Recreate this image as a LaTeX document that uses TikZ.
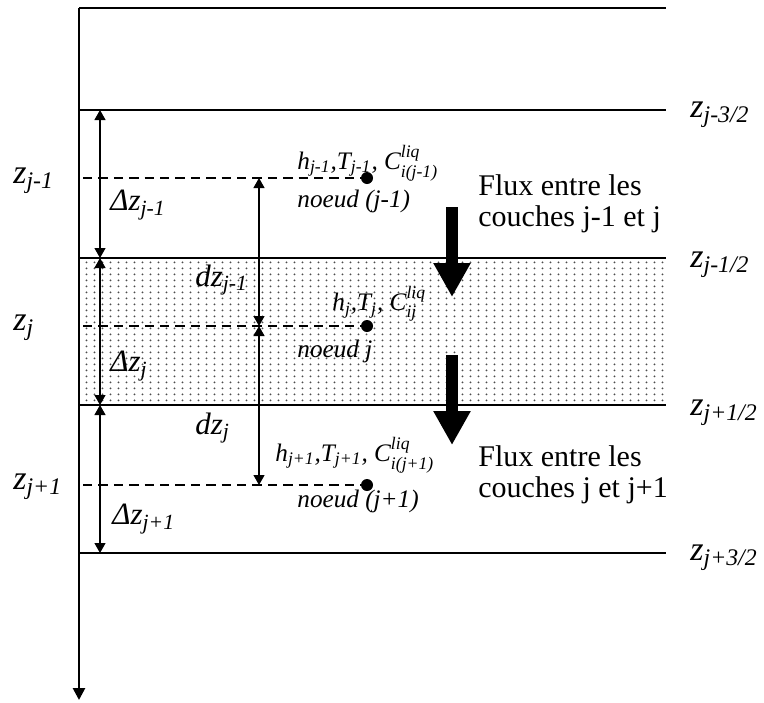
\documentclass[tikz,border=0pt]{standalone}
\usepackage{amsmath}
\usepackage{fontspec}
\setmainfont{Liberation Serif}
\usetikzlibrary{arrows.meta, positioning, patterns}

% grille de points pour la couche j
\pgfdeclarepatternformonly{dotgrid}{\pgfpointorigin}{\pgfpoint{3.75pt}{3pt}}%
  {\pgfpoint{3.75pt}{3pt}}%
  {\pgfpathcircle{\pgfpoint{1.875pt}{1.5pt}}{0.55pt}\pgfusepath{fill}}

\newcommand{\idx}[2]{#1$_{\text{#2}}$}
\newcommand{\liq}[2]{#1$^{\text{liq}}_{\text{#2}}$}

\begin{document}
\begin{tikzpicture}[
  x=0.5pt, y=-0.5pt,
  axe/.style    = {line width=1.3pt, -{Triangle[width=6pt,length=6pt]}},
  couche/.style = {line width=0.65pt},
  niveau/.style = {line width=1.1pt, dash pattern=on 4.7pt off 3pt},
  cote/.style   = {line width=0.6pt,
                   {Triangle[width=5.5pt,length=5pt]}-{Triangle[width=5.5pt,length=5pt]}},
  flux/.style   = {line width=6pt, -{Triangle[width=17.5pt,length=17pt]}},
  point/.style  = {circle, fill, inner sep=0pt, minimum size=6pt},
  zlab/.style   = {font=\fontsize{17}{17}\selectfont\itshape, inner sep=0pt, anchor=west},
  dlab/.style   = {font=\fontsize{15.5}{15.5}\selectfont\itshape, inner sep=0pt, anchor=west},
  nlab/.style   = {font=\fontsize{12.6}{13}\selectfont\itshape, inner sep=0pt, anchor=west},
  ftext/.style  = {font=\fontsize{15}{15.5}\selectfont, align=left, inner sep=0pt, anchor=west}
]
\useasboundingbox (0,0) rectangle (764,702);

% couche j (pointillee)
\fill[pattern=dotgrid, pattern color=black!70] (79,258) rectangle (666,405);

% axe et limites des couches
\coordinate (haut) at (79,8);
\coordinate (bas)  at (79,700);
\draw[line width=0.9pt] (haut) -- (666,8);
\draw[axe] (haut) -- (bas);
\foreach \y/\n in {110/a, 258/b, 405/c, 553/d}
  \draw[couche] (79,\y) coordinate (g\n) -- (666,\y) coordinate (d\n);

\node[zlab] (zA) at (690,115) {\idx{z}{j-3/2}};
\node[zlab] (zB) at (690,265) {\idx{z}{j-1/2}};
\node[zlab] (zC) at (690,413) {\idx{z}{j+1/2}};
\node[zlab] (zD) at (690,558) {\idx{z}{j+3/2}};

% noeuds
\foreach \y/\n in {178/1, 326/2, 485/3} {
  \node[point] (p\n) at (367,\y) {};
  \draw[niveau] (83,\y) -- (p\n);
}

\node[zlab] (z1) at (13,181) {\idx{z}{j-1}};
\node[zlab] (z2) at (13,328) {\idx{z}{j}};
\node[zlab] (z3) at (13,487) {\idx{z}{j+1}};

% epaisseurs
\foreach \a/\b in {110/258, 258/405, 405/553}
  \draw[cote] (100,\a) -- (100,\b);
\node[dlab] (dz1) at (110,205) {Δ\idx{z}{j-1}};
\node[dlab] (dz2) at (110,366) {Δ\idx{z}{j}};
\node[dlab] (dz3) at (112,519) {Δ\idx{z}{j+1}};

% distances entre noeuds
\draw[cote] (259,178) -- (259,326);
\draw[cote] (259,326) -- (259,485);
\node[dlab] (d1) at (195,280) {d\idx{z}{j-1}};
\node[dlab] (d2) at (195,428) {d\idx{z}{j}};

% variables aux noeuds
\node[nlab] (h1) at (297,163) {\idx{h}{j-1},\idx{T}{j-1}, \liq{C}{i(j-1)}};
\node[nlab] (h2) at (332,304) {\idx{h}{j},\idx{T}{j}, \liq{C}{ij}};
\node[nlab] (h3) at (275,455) {\idx{h}{j+1},\idx{T}{j+1}, \liq{C}{i(j+1)}};
\node[nlab] (n1) at (297,201) {noeud (j-1)};
\node[nlab] (n2) at (297,351) {noeud j};
\node[nlab] (n3) at (297,501) {noeud (j+1)};

% flux
\draw[flux] (452,207) -- (452,297);
\draw[flux] (452,355) -- (452,445);
\node[ftext] (f1) at (478,204) {Flux entre les\\couches j-1 et j};
\node[ftext] (f2) at (478,475) {Flux entre les\\couches j et j+1};

\end{tikzpicture}
\end{document}
